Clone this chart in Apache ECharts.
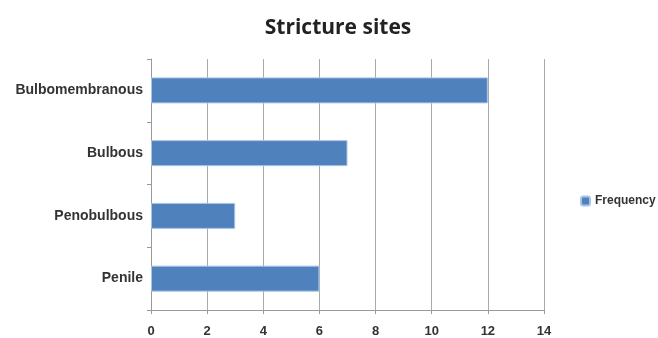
<!DOCTYPE html>
<html>
<head>
<meta charset="utf-8">
<script src="https://cdn.jsdelivr.net/npm/echarts@6/dist/echarts.min.js"></script>
<style>html,body{margin:0;padding:0;background:#fff}#c{width:658px;height:338px}</style>
</head>
<body>
<div id="c"></div>
<script>
const categories = ["Bulbomembranous", "Bulbous", "Penobulbous", "Penile"];
const frequency = [12, 7, 3, 6];
const seriesName = "Frequency";
const chartTitle = "Stricture sites";

const chart = echarts.init(document.getElementById('c'));
chart.setOption({
  animation: false,
  backgroundColor: '#fff',
  title: {
    text: chartTitle, left: 333, textAlign: 'center', top: 13,
    textStyle: {fontFamily: 'Open Sans', fontWeight: 'bold', fontSize: 21, color: '#222'}
  },
  legend: {
    data: [seriesName], left: 575, top: 190, orient: 'vertical',
    itemWidth: 9, itemHeight: 9, itemGap: 4,
    textStyle: {fontFamily: 'Liberation Sans', fontWeight: 'bold', fontSize: 12, color: '#333'}
  },
  grid: {left: 151, right: 114, top: 59, bottom: 28, containLabel: false},
  xAxis: {
    type: 'value', min: 0, max: 14, interval: 2,
    axisLine: {show: true, lineStyle: {color: '#999'}},
    axisTick: {show: true, length: 4, lineStyle: {color: '#999'}},
    splitLine: {show: true, lineStyle: {color: '#aaa'}},
    axisLabel: {margin: 15, fontFamily: 'Liberation Sans', fontWeight: 'bold', fontSize: 13, color: '#333'}
  },
  yAxis: {
    type: 'category', data: categories, inverse: true,
    axisLine: {show: true, lineStyle: {color: '#999'}},
    axisTick: {show: true, length: 4, lineStyle: {color: '#999'}},
    axisLabel: {margin: 8, fontFamily: 'Liberation Sans', fontWeight: 'bold', fontSize: 14, color: '#333'}
  },
  series: [{
    name: seriesName, type: 'bar', data: frequency, barWidth: 26,
    itemStyle: {color: '#4f81bd', borderColor: '#a9c4e6', borderWidth: 1}
  }]
});
</script>
</body>
</html>
